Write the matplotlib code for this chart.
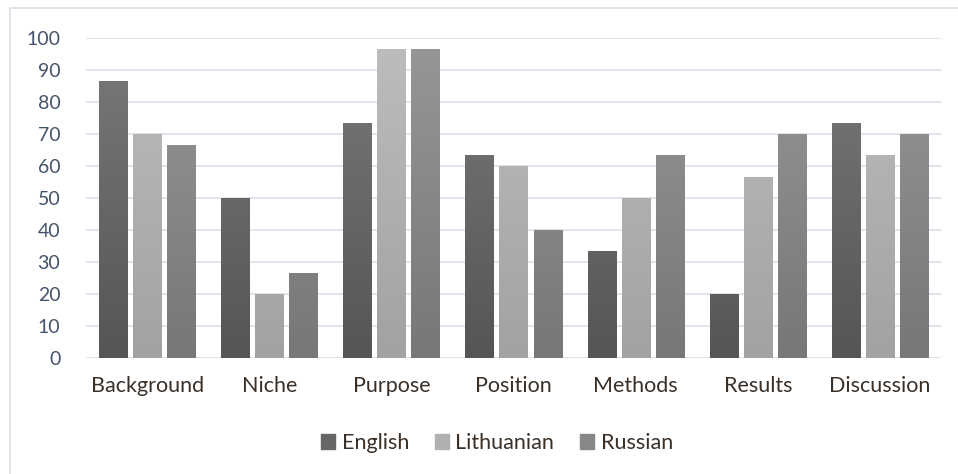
import matplotlib
matplotlib.use("Agg")
import matplotlib.pyplot as plt
import numpy as np
from matplotlib.colors import LinearSegmentedColormap
from matplotlib.patches import Rectangle

categories = ["Background", "Niche", "Purpose", "Position", "Methods", "Results", "Discussion"]
english = [86.7, 50, 73.3, 63.3, 33.3, 20, 73.3]
lithuanian = [70, 20, 96.7, 60, 50, 56.7, 63.3]
russian = [66.7, 26.7, 96.7, 40, 63.3, 70, 70]
series_names = ["English", "Lithuanian", "Russian"]
yticks = [0, 10, 20, 30, 40, 50, 60, 70, 80, 90, 100]

# gradient colours (top, bottom)
grads = [("#7a7a7a", "#555555"), ("#bdbdbd", "#a2a2a2"), ("#979797", "#777777")]
mids = ["#666666", "#b0b0b0", "#878787"]

plt.rcParams['font.family'] = ['Lato', 'DejaVu Sans']

fig = plt.figure(figsize=(9.58, 4.74), dpi=100)
ax = fig.add_axes([86/958, 1-358/474, (941-86)/958, (358-38)/474])

x = np.arange(len(categories))
step = 34/122
width = 28/122
data = [english, lithuanian, russian]
for i, (vals, (ctop, cbot)) in enumerate(zip(data, grads)):
    bars = ax.bar(x + (i-1)*step, vals, width=width, color=mids[i], zorder=2, linewidth=0)
    cmap = LinearSegmentedColormap.from_list(f"g{i}", [cbot, ctop])
    for b in bars:
        bx = b.get_x()
        bw = b.get_width()
        grad = np.linspace(0, 1, 256).reshape(-1, 1)
        im = ax.imshow(grad, cmap=cmap, origin='lower', aspect='auto',
                       extent=[bx, bx+bw, 0, 100], zorder=3)
        im.set_clip_path(b)

ax.set_xlim(-0.5, len(categories)-0.5)
ax.set_ylim(0, 100)
ax.set_yticks(yticks)
ax.set_xticks(x)
ax.set_xticklabels(categories, fontsize=15.5, color="#3a3028")
ax.tick_params(axis='y', labelsize=14, labelcolor="#44546a", length=0, pad=18.5)
ax.tick_params(axis='x', length=0, pad=13)
ax.yaxis.grid(True, color="#dde2ea", linewidth=1.3, zorder=0)
ax.set_axisbelow(True)
for s in ax.spines.values():
    s.set_visible(False)

handles = [Rectangle((0, 0), 1, 1, color=mids[i]) for i in range(3)]
leg = fig.legend(handles, series_names, loc='center', bbox_to_anchor=(497/958, 1-443/474),
                 ncol=3, frameon=False, fontsize=15.5, handlelength=0.65, handleheight=0.65,
                 columnspacing=1.2, handletextpad=0.3)
for t in leg.get_texts():
    t.set_color("#3a3028")

# outer frame (left and top visible)
fig.patches.append(Rectangle((10/958, -0.1), 1.2, 1-8/474+0.1, transform=fig.transFigure,
                             fill=False, edgecolor="#dadfe6", linewidth=1.2))

fig.savefig("out.png", dpi=100)
